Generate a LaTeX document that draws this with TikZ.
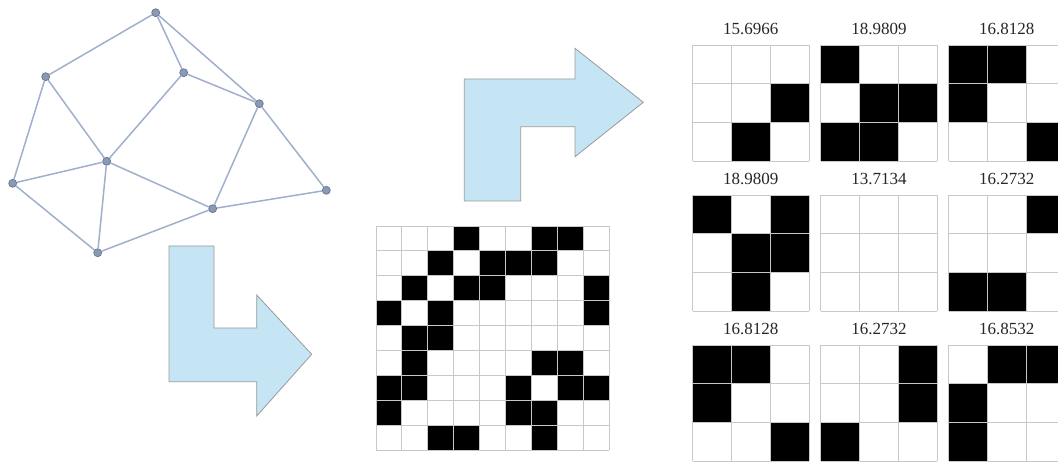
\documentclass[tikz,border=0pt]{standalone}
\usepackage{fontspec}
\setmainfont{Liberation Serif}
\definecolor{edgec}{HTML}{A0AFCB}
\definecolor{vfill}{HTML}{8A99B4}
\definecolor{vdraw}{HTML}{66758F}
\definecolor{arrfill}{HTML}{C6E5F4}
\definecolor{arrdraw}{HTML}{9A9A9A}
\definecolor{gridc}{HTML}{C8C8C8}
\newcommand\mygrid[6]{% x y name label cells size
  \begin{scope}[shift={(#1,#2)}]
    \foreach \r/\c in {#5} {\fill[black] (\c*#6/3,\r*#6/3) rectangle ++(#6/3,#6/3);}
    \foreach \k in {0,1,2,3} {
      \draw[gridline] (\k*#6/3,0) -- (\k*#6/3,#6);
      \draw[gridline] (0,\k*#6/3) -- (#6,\k*#6/3);
    }
    \node[lbl] (#3) at (#6/2,-16.5) {#4};
  \end{scope}}
\begin{document}
\begin{tikzpicture}[x=1pt,y=-1pt,
  vert/.style={circle,fill=vfill,draw=vdraw,line width=0.7pt,inner sep=0pt,minimum size=8pt},
  edge/.style={edgec,line width=1.5pt},
  bigarrow/.style={fill=arrfill,draw=arrdraw,line width=0.8pt,line join=miter},
  gridline/.style={gridc,line width=0.9pt},
  lbl/.style={font=\fontsize{17}{20}\selectfont,text=black!85,inner sep=0pt}]
\useasboundingbox (0,0) rectangle (1058,462);
% graph
\node[vert] (A) at (155.7,12.7) {};
\node[vert] (B) at (45.7,76.7) {};
\node[vert] (C) at (183.7,72.7) {};
\node[vert] (D) at (259.3,103.7) {};
\node[vert] (E) at (106.7,161.3) {};
\node[vert] (F) at (12.7,183.3) {};
\node[vert] (G) at (326.3,190.3) {};
\node[vert] (H) at (212.7,208.7) {};
\node[vert] (I) at (97.7,252.7) {};
\foreach \u/\v in {A/B,A/C,A/D,B/F,B/E,C/E,C/D,D/H,D/G,E/F,E/I,E/H,F/I,I/H,H/G}
  \draw[edge] (\u) -- (\v);
% arrows
\draw[bigarrow] (464.3,201) -- (464.3,79) -- (575,79) -- (575,48.3) -- (643.3,102.3)
  -- (575,156.7) -- (575,126.7) -- (520.7,126.7) -- (520.7,201) -- cycle;
\draw[bigarrow] (169,246) -- (214,246) -- (214,328) -- (256.7,328) -- (256.7,295)
  -- (311.7,354.3) -- (256.7,416) -- (256.7,381.7) -- (169,381.7) -- cycle;
% big grid
\begin{scope}[shift={(376,226)},x=25.93pt,y=-24.9pt]
  \foreach \r/\c in {0/3,0/6,0/7, 1/2,1/4,1/5,1/6, 2/1,2/3,2/4,2/8, 3/0,3/2,3/8,
     4/1,4/2, 5/1,5/6,5/7, 6/0,6/1,6/5,6/7,6/8, 7/0,7/5,7/6, 8/2,8/3,8/6}
    {\fill[black] (\c,\r) rectangle ++(1,1);}
  \foreach \k in {0,...,9} {
    \draw[gridline] (\k,0) -- (\k,9);
    \draw[gridline] (0,\k) -- (9,\k);
  }
\end{scope}
% small grids
\mygrid{692.7}{45}{L1}{15.6966}{1/2,2/1}{116.3}
\mygrid{820.8}{45}{L2}{18.9809}{0/0,1/1,1/2,2/0,2/1}{116.3}
\mygrid{948.7}{45}{L3}{16.8128}{0/0,0/1,1/0,2/2}{116.3}
\mygrid{692.7}{195}{L4}{18.9809}{0/0,0/2,1/1,1/2,2/1}{116.3}
\mygrid{820.8}{195}{L5}{13.7134}{}{116.3}
\mygrid{948.7}{195}{L6}{16.2732}{0/2,2/0,2/1}{116.3}
\mygrid{692.7}{345}{L7}{16.8128}{0/0,0/1,1/0,2/2}{116.3}
\mygrid{820.8}{345}{L8}{16.2732}{0/2,1/2,2/0}{116.3}
\mygrid{948.7}{345}{L9}{16.8532}{0/1,0/2,1/0,2/0}{116.3}
\end{tikzpicture}
\end{document}
